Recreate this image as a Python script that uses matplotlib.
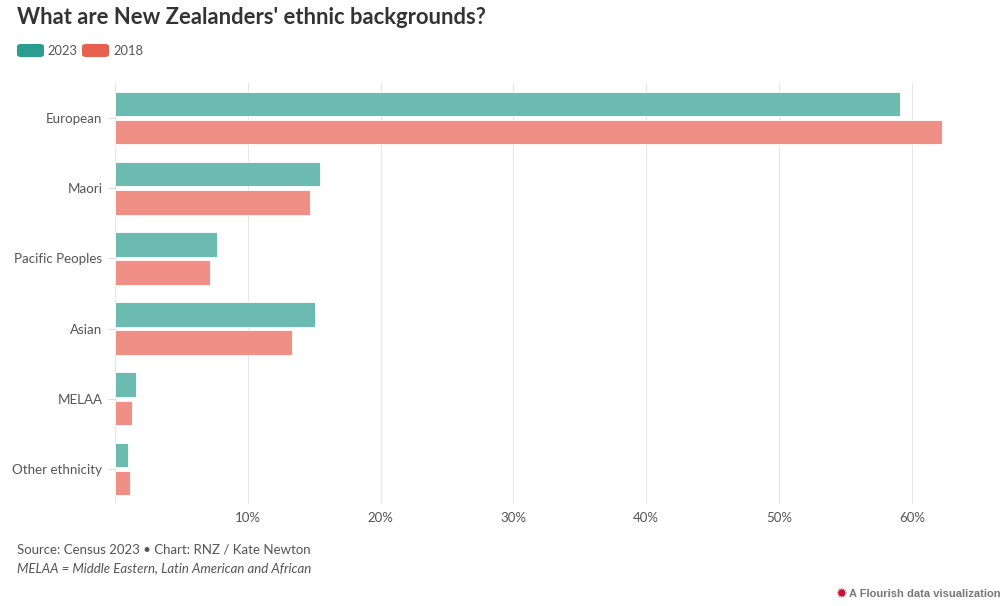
import numpy as np
import matplotlib.pyplot as plt
from matplotlib.patches import FancyBboxPatch

# Values (% of population)
categories = ['European', 'Maori', 'Pacific Peoples', 'Asian', 'MELAA', 'Other ethnicity']
share_2023 = [59.1, 15.45, 7.7, 15.05, 1.6, 1.0]
share_2018 = [62.3, 14.7, 7.15, 13.35, 1.3, 1.1]
series_names = ['2023', '2018']
x_ticks = [10, 20, 30, 40, 50, 60]

teal_key, teal_bar = '#2a9d8f', '#6bbbb0'
red_key, red_bar = '#e8604f', '#ef8f85'
text_col = '#333333'
label_col = '#555555'

plt.rcParams['font.family'] = ['Lato', 'DejaVu Sans']

fig = plt.figure(figsize=(10.07, 6.06), dpi=100)
ax = fig.add_axes([115 / 1007, 1 - 504 / 606, 870 / 1007, 421 / 606])

y = np.arange(len(categories))
h = 0.35
ax.barh(y - 0.2, share_2023, height=h, color=teal_bar, edgecolor='white', linewidth=0.6, zorder=3)
ax.barh(y + 0.2, share_2018, height=h, color=red_bar, edgecolor='white', linewidth=0.6, zorder=3)

ax.set_ylim(len(categories) - 0.5, -0.5)
ax.set_xlim(0, 65.5)
ax.set_xticks([0] + x_ticks)
ax.set_xticklabels([''] + ['{}%'.format(t) for t in x_ticks])
ax.set_yticks(y)
ax.set_yticklabels(categories)
ax.grid(axis='x', color='#e6e6e6', linewidth=0.8, zorder=0)
for s in ax.spines.values():
    s.set_visible(False)
ax.tick_params(axis='x', length=0, pad=6, labelsize=9.5, labelcolor=label_col)
ax.tick_params(axis='y', length=5, width=0.8, color='#dddddd', pad=4, labelsize=9.6, labelcolor=label_col)

# Title
fig.text(17 / 1007, 1 - 17 / 606, "What are New Zealanders' ethnic backgrounds?",
         fontsize=15.8, fontweight='bold', color=text_col, va='center', ha='left')

# Legend with rounded swatches
leg_x = [17, 82]
txt_x = [47, 113]
for i, (name, col) in enumerate(zip(series_names, [teal_key, red_key])):
    sw = FancyBboxPatch((leg_x[i] / 1007, 1 - 57 / 606), 27 / 1007, 13 / 606,
                        boxstyle='round,pad=0,rounding_size=0.004', transform=fig.transFigure,
                        facecolor=col, edgecolor='none')
    fig.patches.append(sw)
    fig.text(txt_x[i] / 1007, 1 - 51 / 606, name, fontsize=9.3, color=label_col, va='center', ha='left')

# Footer
fig.text(17 / 1007, 1 - 550 / 606, 'Source: Census 2023 \u2022 Chart: RNZ / Kate Newton',
         fontsize=9.5, color=label_col, va='center', ha='left')
fig.text(17 / 1007, 1 - 568 / 606, 'MELAA = Middle Eastern, Latin American and African',
         fontsize=9.5, color=label_col, style='italic', va='center', ha='left')
fig.text(841 / 1007, 1 - 594 / 606, '\u2739', fontsize=10, color='#c8102e', va='center', ha='center',
         family=['DejaVu Sans'])
fig.text(849 / 1007, 1 - 594 / 606, 'A Flourish data visualization', fontsize=8, fontweight='bold',
         color='#777777', va='center', ha='left', family=['Liberation Sans', 'DejaVu Sans'])

fig.savefig('out.png', dpi=100, facecolor='white')
